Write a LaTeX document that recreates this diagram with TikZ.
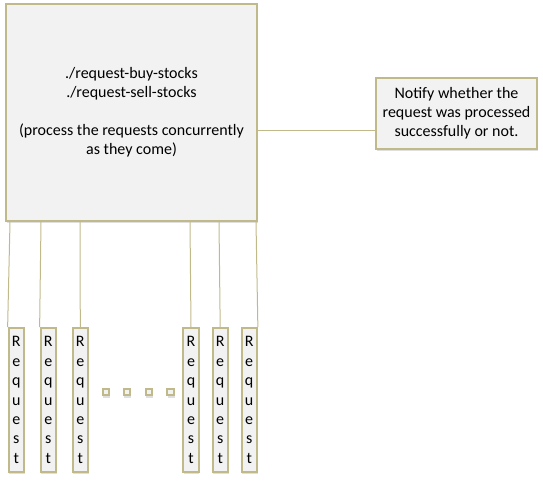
\documentclass[tikz,border=0pt]{standalone}
\usepackage{fontspec}
\setmainfont{Carlito}
\usetikzlibrary{calc,shadows}
\definecolor{tanline}{RGB}{192,186,138}
\definecolor{boxgray}{RGB}{242,242,242}
\tikzset{pbox/.style={draw=tanline,fill=boxgray,line width=1.5pt,inner sep=0pt,align=center,
  drop shadow={opacity=0.25,shadow xshift=0.6pt,shadow yshift=-1.8pt},font=\fontsize{12}{14.3}\selectfont},
  reqbox/.style={pbox,minimum width=11.5pt,minimum height=108pt,font=\fontsize{12}{14.55}\selectfont},
  dotbox/.style={pbox,minimum size=5.2pt},
  link/.style={draw=tanline,line width=0.75pt}}

\begin{document}
\begin{tikzpicture}[x=0.75pt,y=-0.75pt]
\useasboundingbox (0,0) rectangle (543,480);
% main process box and notification
\node[pbox,minimum width=188.25pt,minimum height=162.75pt] (main) at (131.5,112.5){./request-buy-stocks\\./request-sell-stocks\\[14.3pt](process the requests concurrently\\as they come)};
\node[pbox,minimum width=120.75pt,minimum height=53.25pt] (notify) at (456.5,113.5){Notify whether the\\request was processed\\successfully or not.};
\coordinate (tap) at (300,130);
\draw[link] (main.east |- tap) -- (notify.west |- tap);
% requests
\foreach \i/\x in {1/16.3,2/48.3,3/80.3,4/191,5/220.2,6/249.2}
  \node[reqbox] (r\i) at (\x,400){R\\e\\q\\u\\e\\s\\t};
\foreach \i/\dx/\anc in {1/5/north west,2/36/north west,3/75/north,4/185/north,5/214/north,6/251/north east}
  \draw[link] ($(main.south west)+(\dx,0)$) -- (r\i.\anc);
\foreach \x [count=\k] in {106,127,149,170.5}
  \node[dotbox] (dot\k) at (\x,392){};
\end{tikzpicture}
\end{document}
